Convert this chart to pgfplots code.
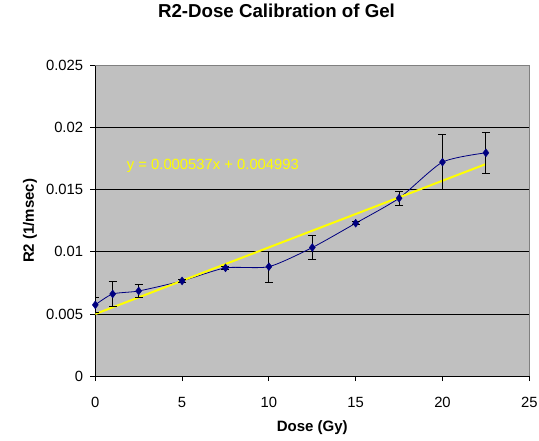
\documentclass[border=0pt]{standalone}
\usepackage{pgfplots}
\pgfplotsset{compat=1.18}
\usepackage{pgfplotstable}
\usepackage{fontspec}
\setmainfont{Liberation Sans}
\definecolor{plotbg}{RGB}{192,192,192}
\definecolor{navyc}{RGB}{0,0,128}
\definecolor{framec}{RGB}{128,128,128}
\definecolor{trend}{RGB}{255,255,0}

\pgfplotstableread{
x y ey
0 0.00573 0.0006
1 0.00661 0.00099
2.5 0.00685 0.00055
5 0.00766 0.00012
7.5 0.00871 0.0001
10 0.00881 0.00123
12.5 0.01035 0.00097
15 0.01231 0.00012
17.5 0.01433 0.00055
20 0.01723 0.0022
22.5 0.01798 0.00165
}\gel

\begin{document}
\begin{tikzpicture}
\useasboundingbox (-95.3pt,-64pt) rectangle (443.7pt,376pt);
\begin{axis}[
  at={(0,0)}, anchor=south west,
  width=434pt, height=310.3pt, scale only axis,
  xmin=0, xmax=25, ymin=0, ymax=0.025,
  scaled y ticks=false, scaled x ticks=false,
  xtick={0,5,10,15,20,25},
  xticklabels={0,5,10,15,20,25},
  ytick={0,0.005,0.01,0.015,0.02,0.025},
  yticklabels={0,0.005,0.01,0.015,0.02,0.025},
  axis background/.style={fill=plotbg, draw=framec, line width=0.9pt},
  axis x line*=bottom, axis y line*=left,
  axis line style={black, line width=0.8pt, -},
  tick align=outside, major tick length=5pt,
  tick style={black, line width=0.8pt},
  extra y ticks={0.005,0.01,0.015,0.02},
  extra y tick labels={},
  extra y tick style={grid=major, major tick length=0pt},
  major grid style={black, line width=0.8pt},
  tick label style={font=\fontsize{14.8}{17}\selectfont},
  /pgf/number format/assume math mode=true,
  yticklabel style={xshift=-3.7pt},
  xticklabel style={yshift=-13pt},
  xlabel={Dose (Gy)}, ylabel={R2 (1/msec)},
  label style={font=\bfseries\fontsize{15}{18}\selectfont},
  xlabel style={at={(axis description cs:0.5,-0.1676)}, anchor=center},
  ylabel style={at={(axis description cs:-0.1505,0.5)}, anchor=center},
  title={R2-Dose Calibration of Gel},
  title style={font=\bfseries\fontsize{18.7}{22}\selectfont, at={(axis description cs:0.4175,1.157)}, anchor=center},
]
\addplot[navyc, line width=0.8pt, smooth, tension=0.4] table[x=x,y=y]{\gel};
\addplot[trend, line width=2pt] coordinates {(0,0.004993) (22.5,0.0170755)};
\addplot[only marks, mark=diamond*, mark size=4pt, navyc,
  error bars/.cd, y dir=both, y explicit,
  error mark=-,
  error bar style={black, line width=0.8pt},
  error mark options={rotate=90, mark size=4pt, black, line width=0.8pt}]
  table[x=x,y=y,y error=ey]{\gel};
\node[anchor=west, inner sep=0pt, text=trend, font=\fontsize{14.8}{17}\selectfont] at (axis cs:1.81,0.01694) {y = 0.000537x + 0.004993};
\end{axis}
\end{tikzpicture}
\end{document}
